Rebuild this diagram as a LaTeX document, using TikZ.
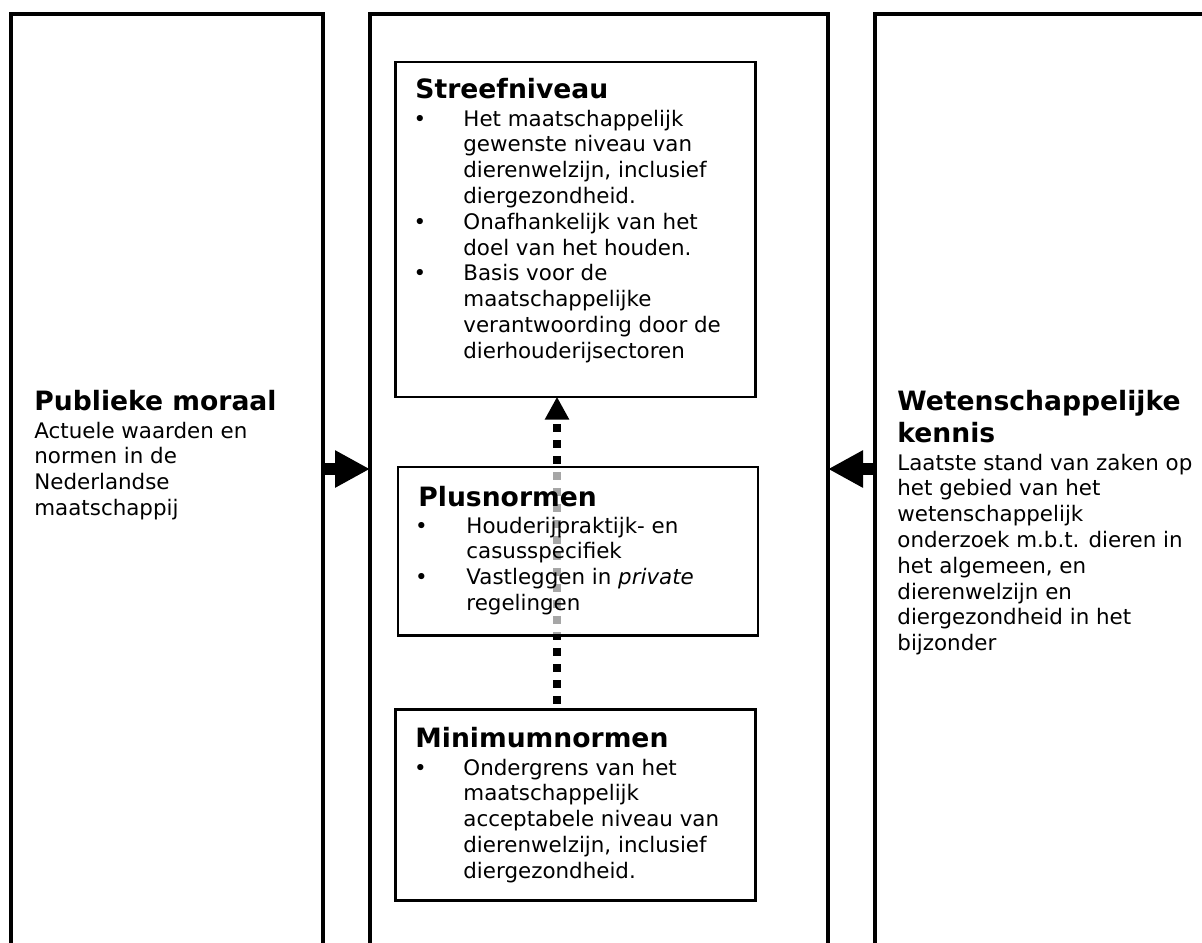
\documentclass[tikz,border=0pt]{standalone}
\usepackage{fontspec}
\setmainfont{DejaVu Sans}
\usetikzlibrary{arrows.meta}

\tikzset{
  kolom/.style={draw, line width=2pt, anchor=north west, inner sep=0pt, outer sep=0pt, minimum height=500pt},
  kader/.style={draw, line width=1.15pt, fill=white, anchor=north west, inner sep=0pt, outer sep=0pt, minimum width=180pt},
  titel/.style={anchor=base west, inner sep=0pt, font=\fontsize{13.3}{16}\selectfont\bfseries},
  regel/.style={anchor=base west, inner sep=0pt, font=\fontsize{10.7}{13}\selectfont},
  punt/.style={anchor=base, inner sep=0pt, font=\fontsize{10.7}{13}\selectfont},
  dikkepijl/.style={line width=6pt, -{Triangle[length=17.5pt, width=17.5pt]}},
  stippelpijl/.style={line width=3.8pt, dash pattern=on 3.7pt off 4.3pt, shorten <=3pt,
    -{Triangle[length=11.5pt, width=11.5pt]}},
}

\begin{document}
\begin{tikzpicture}[x=0.5pt, y=-0.5pt]
  \useasboundingbox (0,0) rectangle (1202,942);
  \fill[white] (0,0) rectangle (1202,942);
  \clip (0,0) rectangle (1202,942);

  % kolommen
  \node[kolom, minimum width=156pt] (links) at (11,13.5) {};
  \node[kolom, minimum width=229pt] (midden) at (370,13.5) {};
  \node[kolom, minimum width=200pt] (rechts) at (875,13.5) {};

  % niveaus
  \node[kader, minimum height=167.5pt] (streef) at (395.5,61.7) {};
  \node[kader, minimum height=95.5pt] (minimum) at (395.5,709.5) {};

  % pijlen
  \coordinate (hoogte) at (0,469);
  \coordinate (stippel) at (557,0);
  \draw[dikkepijl] (links.east |- hoogte) -- (midden.west |- hoogte);
  \draw[dikkepijl] (rechts.west |- hoogte) -- (midden.east |- hoogte);
  \draw[stippelpijl] (stippel |- minimum.north) -- (stippel |- streef.south);

  \node[kader, fill opacity=0.65, minimum height=84.25pt] (plus) at (398,467) {};

  % teksten
  \node[titel] (moraal) at (34,410) {Publieke moraal};
  \foreach \tekst [count=\i from 0] in {{Actuele waarden en}, {normen in de}, {Nederlandse}, {maatschappij}} {
      \node[regel] (moraal\i) at (34,{438+25.8*\i}) {\tekst};
    }

  \node[titel] (wetenschap) at (897,410) {Wetenschappelijke};
  \node[titel] (kennis) at (897,442) {kennis};
  \foreach \tekst [count=\i from 0] in {{Laatste stand van zaken op}, {het gebied van het}, {wetenschappelijk},
      {onderzoek m.b.t. dieren in}, {het algemeen, en}, {dierenwelzijn en}, {diergezondheid in het}, {bijzonder}} {
      \node[regel] (kennis\i) at (897,{470+25.8*\i}) {\tekst};
    }

  \node[titel] (streeftitel) at (415,98) {Streefniveau};
  \foreach \tekst/\bol [count=\i from 0] in {{Het maatschappelijk}/1, {gewenste niveau van}/0,
      {dierenwelzijn, inclusief}/0, {diergezondheid.}/0, {Onafhankelijk van het}/1,
      {doel van het houden.}/0, {Basis voor de}/1, {maatschappelijke}/0,
      {verantwoording door de}/0, {dierhouderijsectoren}/0} {
      \node[regel] (streef\i) at (463,{126+25.8*\i}) {\tekst};
      \ifnum\bol=1
        \node[punt] (streefpunt\i) at (420,{126+25.8*\i}) {•};
      \fi
    }

  \node[titel] (plustitel) at (418,506) {Plusnormen};
  \foreach \tekst/\bol [count=\i from 0] in {{Houderijpraktijk- en}/1, {casusspecifiek}/0,
      {Vastleggen in \textit{private}}/1, {regelingen}/0} {
      \node[regel] (plus\i) at (466,{533+25.8*\i}) {\tekst};
      \ifnum\bol=1
        \node[punt] (pluspunt\i) at (421.5,{533+25.8*\i}) {•};
      \fi
    }

  \node[titel] (minimumtitel) at (415,747) {Minimumnormen};
  \foreach \tekst/\bol [count=\i from 0] in {{Ondergrens van het}/1, {maatschappelijk}/0,
      {acceptabele niveau van}/0, {dierenwelzijn, inclusief}/0, {diergezondheid.}/0} {
      \node[regel] (minimum\i) at (463,{775+25.8*\i}) {\tekst};
      \ifnum\bol=1
        \node[punt] (minimumpunt\i) at (420.5,{775+25.8*\i}) {•};
      \fi
    }
\end{tikzpicture}
\end{document}
